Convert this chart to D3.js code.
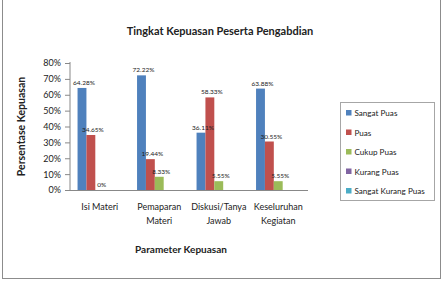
<!DOCTYPE html>
<html>
<head>
<meta charset="utf-8">
<script src="https://cdn.jsdelivr.net/npm/d3@7"></script>
<style>
  body { margin: 0; background: #fff; }
  text { font-family: Lato, "Open Sans", sans-serif; fill: #222; }
</style>
</head>
<body>
<div id="chart"></div>
<script>
// chart data
const categories = ["Isi Materi", "Pemaparan Materi", "Diskusi/Tanya Jawab", "Keseluruhan Kegiatan"];
const seriesNames = ["Sangat Puas", "Puas", "Cukup Puas", "Kurang Puas", "Sangat Kurang Puas"];
const seriesColors = ["#4F81BD", "#C0504D", "#9BBB59", "#8064A2", "#4BACC6"];
const sangatPuas = [64.28, 72.22, 36.11, 63.88];
const puas = [34.65, 19.44, 58.33, 30.55];
const cukupPuas = [0, 8.33, 5.55, 5.55];
const kurangPuas = [0, 0, 0, 0];
const sangatKurangPuas = [0, 0, 0, 0];
const yTicks = [0, 10, 20, 30, 40, 50, 60, 70, 80];

const values = [sangatPuas, puas, cukupPuas, kurangPuas, sangatKurangPuas];
// only the first three series carry data labels in the original
const labelled = [true, true, true, false, false];

const W = 446, H = 286;
const plot = {left: 70, right: 308, top: 63, bottom: 190};

const svg = d3.select("#chart")
  .append("svg")
  .attr("width", W)
  .attr("height", H);

// outer chart border
svg.append("rect")
  .attr("x", 2.5).attr("y", -2)
  .attr("width", 438).attr("height", 280.5)
  .attr("fill", "none")
  .attr("stroke", "#8c8c8c");

const x = d3.scaleBand()
  .domain(categories)
  .range([plot.left, plot.right]);

const barW = x.bandwidth() / 6.7;
const xs = d3.scaleBand()
  .domain(seriesNames)
  .range([(x.bandwidth() - 5 * barW) / 2, (x.bandwidth() + 5 * barW) / 2]);

const y = d3.scaleLinear()
  .domain([0, 80])
  .range([plot.bottom, plot.top]);

// title
svg.append("text")
  .attr("x", 220).attr("y", 35)
  .attr("text-anchor", "middle")
  .style("font-size", "11px")
  .style("font-weight", "bold")
  .text("Tingkat Kepuasan Peserta Pengabdian");

// y axis
const yAxis = svg.append("g")
  .attr("transform", `translate(${plot.left},0)`)
  .call(d3.axisLeft(y).tickValues(yTicks).tickSize(5).tickPadding(4).tickFormat(d => d + "%"));
yAxis.select(".domain").attr("stroke", "#888").attr("d", `M0,${plot.top - 1}V${plot.bottom}`);
yAxis.selectAll(".tick line").attr("stroke", "#888");
yAxis.selectAll(".tick text").style("font-size", "9px").attr("fill", "#333");

// bars
const groups = svg.append("g")
  .selectAll("g")
  .data(categories)
  .join("g")
  .attr("transform", d => `translate(${x(d)},0)`);

groups.selectAll("rect")
  .data((c, ci) => seriesNames.map((s, si) => ({s, si, v: values[si][ci]})))
  .join("rect")
  .attr("x", d => xs(d.s))
  .attr("y", d => y(d.v))
  .attr("width", barW)
  .attr("height", d => y(0) - y(d.v))
  .attr("fill", d => seriesColors[d.si]);

groups.selectAll("text.lbl")
  .data((c, ci) => seriesNames.map((s, si) => ({s, si, v: values[si][ci]})).filter(d => labelled[d.si]))
  .join("text")
  .attr("class", "lbl")
  .attr("x", d => xs(d.s) + barW / 2 + 2)
  .attr("y", d => y(d.v) - 3)
  .attr("text-anchor", "middle")
  .style("font-size", "6.5px")
  .attr("fill", "#333")
  .text(d => d.v === 0 ? "0%" : d.v.toFixed(2) + "%");

// x axis
const xAxis = svg.append("g")
  .attr("transform", `translate(0,${plot.bottom})`)
  .call(d3.axisBottom(x).tickSize(0).tickPadding(14));
xAxis.select(".domain").attr("stroke", "#888").attr("d", `M${plot.left},0.5H${plot.right}`);
xAxis.selectAll(".tick text")
  .style("font-size", "9px")
  .attr("fill", "#333")
  .each(function(d) {
    const t = d3.select(this);
    t.text(null);
    const words = d.split(" ");
    const lines = words.length > 1 && d.length > 11 ? [words.slice(0, -1).join(" "), words[words.length - 1]] : [d];
    lines.forEach((ln, i) => {
      t.append("tspan").attr("x", 0).attr("dy", i === 0 ? "0.71em" : "1.5em").text(ln);
    });
  });

// axis titles
svg.append("text")
  .attr("x", 181).attr("y", 253)
  .attr("text-anchor", "middle")
  .style("font-size", "10px")
  .style("font-weight", "bold")
  .text("Parameter Kepuasan");

svg.append("text")
  .attr("transform", `translate(25,${(plot.top + plot.bottom) / 2}) rotate(-90)`)
  .attr("text-anchor", "middle")
  .style("font-size", "10.5px")
  .style("font-weight", "bold")
  .text("Persentase Kepuasan");

// legend
const legend = svg.append("g");
legend.append("rect")
  .attr("x", 340.5).attr("y", 102.5)
  .attr("width", 94).attr("height", 98)
  .attr("fill", "#fff")
  .attr("stroke", "#a6a6a6");

const li = legend.selectAll("g.item")
  .data(seriesNames)
  .join("g")
  .attr("class", "item")
  .attr("transform", (d, i) => `translate(346,${113 + i * 19.5})`);
li.append("rect")
  .attr("x", 0).attr("y", -3)
  .attr("width", 5.5).attr("height", 5.5)
  .attr("fill", (d, i) => seriesColors[i]);
li.append("text")
  .attr("x", 8.5).attr("y", 3)
  .style("font-size", "8.1px")
  .attr("fill", "#333")
  .text(d => d);
</script>
</body>
</html>
